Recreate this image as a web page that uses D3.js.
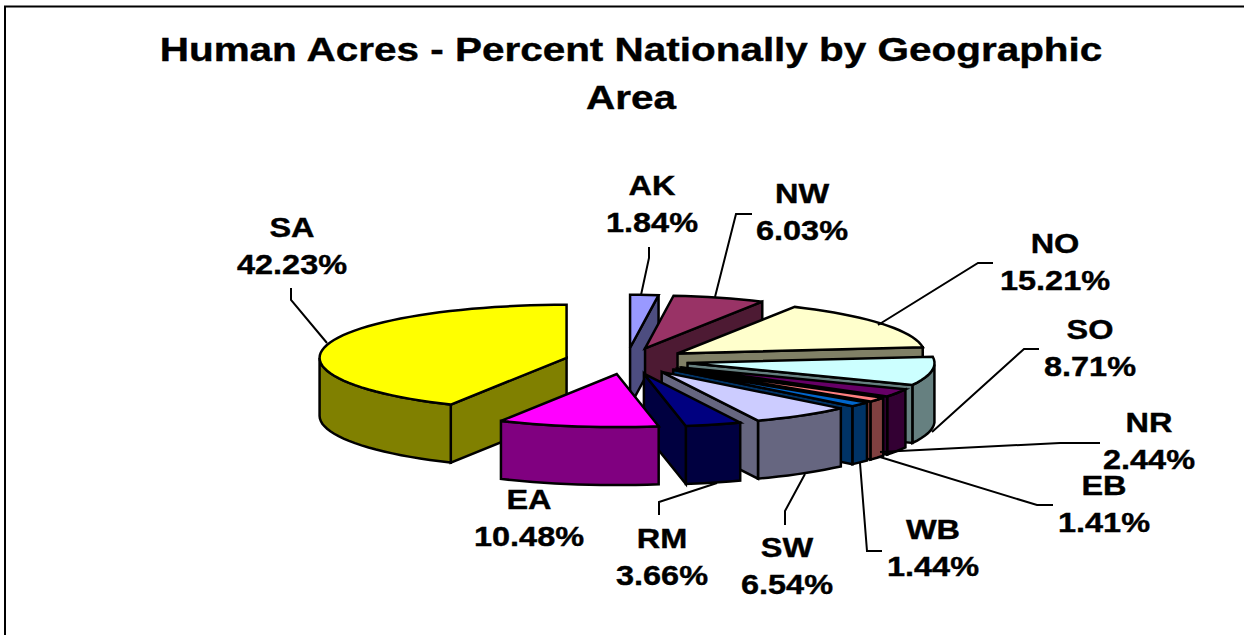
<!DOCTYPE html>
<html><head><meta charset="utf-8">
<script src="https://cdnjs.cloudflare.com/ajax/libs/d3/7.8.5/d3.min.js"></script>
<style>html,body{margin:0;background:#fff;overflow:hidden}svg{display:block}
text{font-family:"Liberation Sans",Arial,sans-serif;font-weight:bold;fill:#000;stroke:#000;stroke-width:.4px}</style>
</head><body><svg id="c" width="1244" height="635"></svg>
<script>
const titleLines = ["Human Acres - Percent Nationally by Geographic", "Area"];
const categories = ["AK","NW","NO","SO","NR","EB","WB","SW","RM","EA","SA"];
const percents = [1.84,6.03,15.21,8.71,2.44,1.41,1.44,6.54,3.66,10.48,42.23];
const topColors = ["#9999ff","#993366","#ffffcc","#ccffff","#660066","#ff8080","#0066cc","#ccccff","#000080","#ff00ff","#ffff00"];
const sideColors = ["#4d4d80","#4d1a33","#808066","#668080","#330033","#804040","#003366","#666680","#000040","#800080","#808000"];
const drawOrder = ["AK","NW","NO","SO","NR","EB","WB","SW","RM","SA","EA"];

// label layout: centre x, first baseline, leader polyline
const labelLayout = {
  AK:{x:652,y:195,lead:[[649,247],[649,258],[641,295]]},
  NW:{x:802,y:203,lead:[[752,214],[736,214],[715,297]]},
  NO:{x:1055,y:253,lead:[[993,263],[978,263],[878,325]]},
  SO:{x:1090,y:339,lead:[[1039,349],[1024,349],[932,432]]},
  NR:{x:1149,y:432,lead:[[1100,443],[1060,443],[880,452]]},
  EB:{x:1104,y:495,lead:[[1053,505],[1037,505],[880,457]]},
  WB:{x:933,y:539,lead:[[860,463],[867,551],[882,551]]},
  SW:{x:787,y:557,lead:[[805,474],[785,511],[785,525]]},
  RM:{x:662,y:548,lead:[[717,483],[659,502],[659,515]]},
  EA:{x:529,y:509,lead:[]},
  SA:{x:292,y:237,lead:[[291,288],[291,300],[327,343]]}
};
const cx=626.5, cy=361, rx=247, ry=53, depth=58, explode=0.25;
const svg=d3.select("#c");
const x=d3.scaleLinear().domain([-1,1]).range([cx-rx,cx+rx]);
const y=d3.scaleLinear().domain([-1,1]).range([cy+ry,cy-ry]);

svg.append("path").attr("d","M5,640V6.5H1244").attr("fill","none").attr("stroke","#000").attr("stroke-width",2);

const pieData=d3.pie().sort(null).startAngle(0).endAngle(2*Math.PI)(percents)
  .map((d,i)=>({...d,name:categories[i],top:topColors[i],side:sideColors[i]}));
const line=d3.line().x(d=>d[0]).y(d=>d[1]);
const g=svg.append("g").attr("stroke","#000").attr("stroke-width",2.5).attr("stroke-linejoin","miter");

function drawSlice(d){
  const mid=(d.startAngle+d.endAngle)/2;
  const ox=explode*Math.sin(mid), oy=explode*Math.cos(mid);
  const P=(a,r=1)=>[x(ox+r*Math.sin(a)),y(oy+r*Math.cos(a))];
  const down=p=>[p[0],p[1]+depth];
  const apex=P(0,0);
  const n=Math.max(2,Math.ceil((d.endAngle-d.startAngle)/0.05));
  const angles=d3.range(n+1).map(i=>d.startAngle+(d.endAngle-d.startAngle)*i/n);
  const wall=(a)=>{const p=P(a);return [apex,p,down(p),down(apex)];};
  if(Math.sin(d.startAngle)<-1e-6) g.append("path").attr("d",line(wall(d.startAngle))+"Z").attr("fill",d.side);
  const front=angles.filter(a=>Math.cos(a)<=0);
  if(front.length>1){
    const pts=front.map(a=>P(a));
    g.append("path").attr("d",line(pts.concat(pts.slice().reverse().map(down)))+"Z").attr("fill",d.side);
  }
  if(Math.sin(d.endAngle)>1e-6) g.append("path").attr("d",line(wall(d.endAngle))+"Z").attr("fill",d.side);
  g.append("path").attr("d",line([apex,...angles.map(a=>P(a))])+"Z").attr("fill",d.top);
}
drawOrder.forEach(n=>drawSlice(pieData.find(d=>d.name===n)));

const fs=28, sx=1.16;
function label(txt,cxp,base,size,scale){
  svg.append("text").attr("transform",`translate(${cxp},${base}) scale(${scale},1)`)
    .attr("text-anchor","middle").attr("font-size",size).text(txt);
}
titleLines.forEach((t,i)=>label(t,631,[61,109][i],34,1.19));
pieData.forEach(d=>{
  const L=labelLayout[d.name];
  label(d.name,L.x,L.y,fs,sx);
  label(d3.format(".2f")(d.value)+"%",L.x,L.y+37,fs,sx);
  if(L.lead.length) svg.append("path").attr("d",line(L.lead)).attr("fill","none").attr("stroke","#000").attr("stroke-width",2);
});
</script></body></html>
